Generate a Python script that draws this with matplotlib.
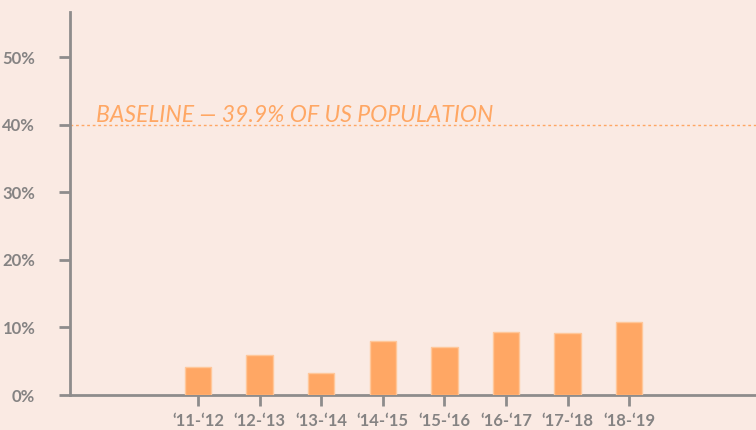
import numpy as np
import matplotlib
matplotlib.use("Agg")
import matplotlib.pyplot as plt

# school years and share (%) of population
years = ["\u201811-\u201812", "\u201812-\u201813", "\u201813-\u201814", "\u201814-\u201815",
         "\u201815-\u201816", "\u201816-\u201817", "\u201817-\u201818", "\u201818-\u201819"]
share = [4.2, 5.9, 3.3, 8.0, 7.1, 9.4, 9.2, 10.8]
baseline = 39.9
yticks = [0, 10, 20, 30, 40, 50]

bg = "#FAEAE3"
orange = "#FFA764"
grey = "#8E8C8C"

plt.rcParams["font.family"] = ["Lato", "DejaVu Sans"]

fig = plt.figure(figsize=(7.56, 4.30), dpi=100, facecolor=bg)
ax = fig.add_axes([70 / 756, 35 / 430, 686 / 756, 383 / 430], facecolor=bg)

x = np.arange(len(years))
ax.bar(x, share, width=0.43, color=orange, edgecolor="#FFC79A", linewidth=1.0, zorder=3)

ax.axhline(baseline, color=orange, linestyle=(0, (2, 2)), linewidth=1.0, zorder=2)
ax.text(0.038, baseline - 0.1, "BASELINE \u2014 39.9% OF US POPULATION",
        transform=ax.get_yaxis_transform(), color=orange, fontsize=16.6,
        fontstyle="italic", fontweight="normal", ha="left", va="bottom")

ax.set_xlim(-2.08, 9.06)
ax.set_ylim(0, 56.7)
ax.set_xticks(x)
ax.set_xticklabels(years)
ax.set_yticks(yticks)
ax.set_yticklabels([f"{v}%" for v in yticks])

for side in ["top", "right"]:
    ax.spines[side].set_visible(False)
for side in ["left", "bottom"]:
    ax.spines[side].set_color(grey)
    ax.spines[side].set_linewidth(2)

ax.tick_params(axis="both", colors=grey, width=2, length=8, labelsize=12)
ax.tick_params(axis="y", pad=17)
ax.tick_params(axis="x", pad=5)
for lab in ax.get_xticklabels() + ax.get_yticklabels():
    lab.set_fontweight("bold")
    lab.set_color("#858383")

fig.savefig("out.png", dpi=100, facecolor=bg)
